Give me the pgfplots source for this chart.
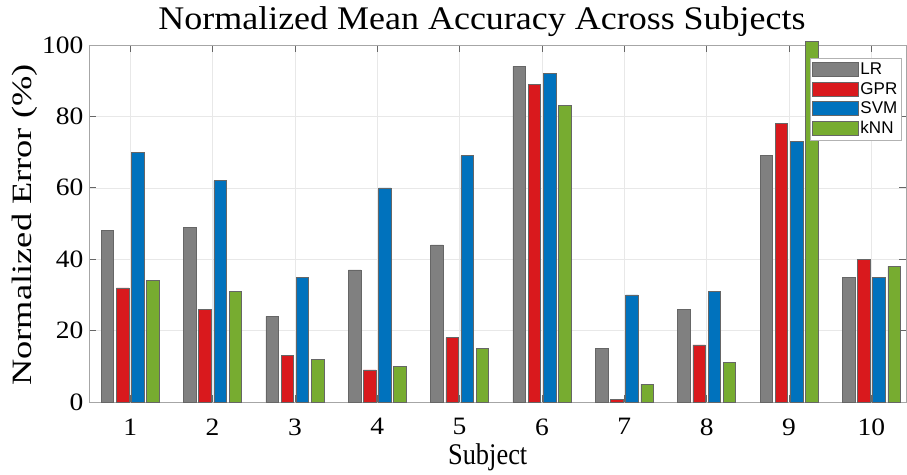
\documentclass[border=0pt]{standalone}
\usepackage{fontspec}
\usepackage{pgfplots}
\usepackage{pgfplotstable}
\pgfplotsset{compat=1.18}

\setmainfont[FakeStretch=1.1]{Liberation Serif}
\newfontfamily\titlefont[FakeStretch=1.09]{Liberation Serif}
\newfontfamily\ylabfont[FakeStretch=1.3]{Liberation Serif}
\newfontfamily\xlabfont[FakeStretch=0.88]{Liberation Serif}
\newfontfamily\legfont{Liberation Sans}

\definecolor{lrc}{RGB}{128,128,128}
\definecolor{gprc}{RGB}{217,25,29}
\definecolor{svmc}{RGB}{0,114,189}
\definecolor{knnc}{RGB}{119,172,48}

% normalized error per subject and model
\pgfplotstableread{
subj LR  GPR  SVM  kNN
1    48  32   70   34
2    49  26   62   31
3    24  13   35   12
4    37  9    60   10
5    44  18   69   15
6    94  89   92   83
7    15  0.8  30   5
8    26  16   31   11
9    69  78   73   101
10   35  40   35   38
}\errtable

\pgfplotsset{
  mybar/.style={ybar, bar width=0.152, fill=#1, draw=black!60, line width=0.5pt,
    legend image code/.code={\draw[fill=#1, draw=black!60, line width=0.5pt] (0pt,-7pt) rectangle (46pt,7pt);}},
}

\begin{document}
\begin{tikzpicture}
\useasboundingbox (0pt,0pt) rectangle (907pt,474pt);
\begin{axis}[
  at={(89pt,72pt)}, anchor=south west,
  scale only axis, width=817pt, height=357pt,
  xmin=0.5, xmax=10.42, ymin=0, ymax=100,
  xtick={1,...,10}, ytick={0,20,...,100},
  tick align=inside, major tick length=7pt,
  tick style={black!60, line width=0.6pt},
  axis line style={gray!70, line width=0.8pt},
  grid=major, major grid style={gray!18, line width=0.5pt},
  clip=false,
  /pgf/number format/assume math mode=true,
  ticklabel style={font=\fontsize{25}{25}\selectfont},
  xticklabel style={yshift=-13pt},
  yticklabel style={xshift=-2pt},
  legend style={at={(0.994,0.964)}, anchor=north east, draw=gray!60, fill=white,
    line width=0.6pt, font=\legfont\fontsize{17}{17}\selectfont,
    inner xsep=2pt, inner ysep=2pt, row sep=0pt,
    nodes={inner xsep=1.5pt, inner ysep=3pt}},
  legend cell align=left,
]
\addplot[mybar=lrc, bar shift=-0.276] table[x=subj, y=LR] {\errtable};
\addplot[mybar=gprc, bar shift=-0.092] table[x=subj, y=GPR] {\errtable};
\addplot[mybar=svmc, bar shift=0.092] table[x=subj, y=SVM] {\errtable};
\addplot[mybar=knnc, bar shift=0.276] table[x=subj, y=kNN] {\errtable};
\legend{LR, GPR, SVM, kNN}

\node[anchor=base, font=\titlefont\fontsize{33}{33}\selectfont]
  at (axis description cs:0.481,1) [yshift=15pt] {Normalized Mean Accuracy Across Subjects};
\node[anchor=center, rotate=90, yshift=64pt, font=\ylabfont\fontsize{28}{28}\selectfont]
  at (axis description cs:0,0.496) {Normalized Error (\%)};
\node[anchor=base, font=\xlabfont\fontsize{30}{30}\selectfont]
  at (axis description cs:0.488,0) [yshift=-62pt] {Subject};
\end{axis}
\end{tikzpicture}
\end{document}
